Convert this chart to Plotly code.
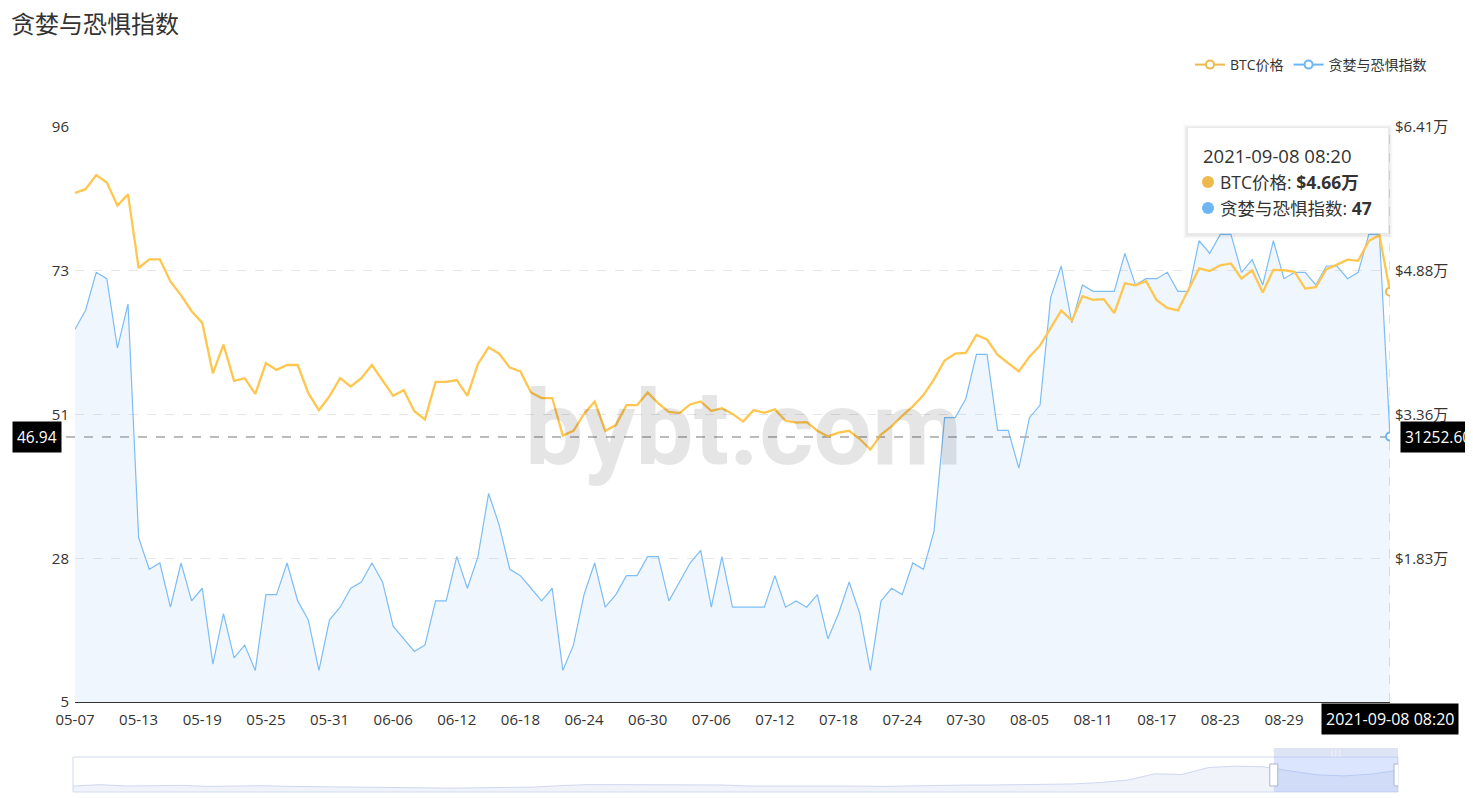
import pandas as pd
import plotly.graph_objects as go

# ---------------- data ----------------
dates = pd.date_range("2021-05-07", periods=125, freq="D")

fear_greed = [
    64, 67, 73, 72, 61, 68, 31, 26, 27, 20, 27, 21, 23, 11, 19, 12, 14, 10, 22, 22, 27, 21, 18, 10, 18, 20,
    23, 24, 27, 24, 17, 15, 13, 14, 21, 21, 28, 23, 28, 38, 33, 26, 25, 23, 21, 23, 10, 14, 22, 27,
    20, 22, 25, 25, 28, 28, 21, 24, 27, 29, 20, 28, 20, 20, 20, 20, 25, 20, 21, 20, 22, 15, 19, 24, 19,
    10, 21, 23, 22, 27, 26, 32, 50, 50, 53, 60, 60, 48, 48, 42, 50, 52, 69, 74, 65, 71, 70, 70, 70,
    76, 71, 72, 72, 73, 70, 70, 78, 76, 79, 79, 73, 75, 71, 78, 72, 73, 73, 71, 74, 74, 72, 73, 79, 79, 47,
]

btc_price = [
    57100, 57500, 59000, 58200, 55760, 56950, 49130, 50050, 50050, 47700, 46220, 44540, 43300, 37950,
    40990, 37150, 37430, 35760, 39030, 38310, 38830, 38830, 35840, 34040, 35520, 37430,
    36550, 37430, 38830, 37230, 35560, 36160, 33920, 33040, 37030, 37030, 37230, 35560, 38950, 40710,
    40030, 38550, 38150, 35920, 35320, 35320, 31330, 31850, 33640, 34960,
    31850, 32450, 34560, 34560, 35920, 34760, 33840, 33720, 34640, 34960, 33960, 34240, 33640, 32840,
    34040, 33760, 34120, 32920, 32720, 32760, 31850, 31250, 31650, 31850, 30970,
    29850, 31450, 32320, 33440, 34440, 35640, 37310, 39310, 40030, 40110, 42020, 41540, 39910, 39030,
    38150, 39710, 40910, 42740, 44620, 43540, 46140, 45740, 45820, 44340,
    47500, 47290, 47730, 45700, 44900, 44620, 46820, 49090, 48810, 49410, 49610, 48010, 48890, 46540,
    48930, 48890, 48730, 46940, 47090, 49010, 49490, 50010, 49890, 52010, 52600, 46620,
]

# long-range overview shown in the zoom slider (rough reading)
overview_dates = pd.date_range(end="2021-09-08", periods=50, freq="27D")
overview_price = [
    13600, 16800, 13600, 15200, 15200, 12800, 13600, 14400, 12800, 12000, 12000, 11200, 9600, 8800,
    8800, 9600, 9600, 11200, 14400, 16800, 16800, 16800, 15200, 15200, 16000, 13600, 13600, 14400,
    15200, 13600, 12800, 14400, 15200, 16000, 16000, 16800, 17600, 18400, 21600, 27200, 41600, 40000,
    56000, 59200, 57600, 48000, 39200, 36800, 40800, 49600,
]

left_tickvals = [5, 27.75, 50.5, 73.25, 96]
left_ticktext = ["5", "28", "51", "73", "96"]
right_range = [3050, 64100]
right_tickvals = [18312.5, 33575, 48837.5, 64100]
right_ticktext = ["$1.83万", "$3.36万", "$4.88万", "$6.41万"]

pointer_left = 46.94
pointer_right = "31252.60"
pointer_time = "2021-09-08 08:20"

# ---------------- styles ----------------
FONT = "Open Sans, Noto Sans CJK SC, sans-serif"
ORANGE = "#ffc64f"
ORANGE_DOT = "#edb94a"
BLUE = "#7dbdf5"
BLUE_DOT = "#6cb6f4"
TXT = "#333333"

# page has an 8px body margin; figure is placed at (8, 8)
OFF = 8
W, H = 1473 - OFF, 798 - OFF
L, R, T, B = 65, 75, 119, 5
PW, PH = W - L - R, H - T - B


def px(x):  # page x -> paper
    return (x - OFF - L) / PW


def py(y):  # page y -> paper
    return (H - B - (y - OFF)) / PH


fig = go.Figure()

fig.add_trace(go.Scatter(
    x=dates, y=fear_greed, mode="lines", yaxis="y",
    line=dict(color=BLUE, width=1.2), fill="tozeroy",
    fillcolor="rgba(120,180,240,0.12)", showlegend=False, hoverinfo="skip"))
fig.add_trace(go.Scatter(
    x=dates, y=btc_price, mode="lines", yaxis="y2",
    line=dict(color=ORANGE, width=2.3), showlegend=False, hoverinfo="skip"))
fig.add_trace(go.Scatter(
    x=[dates[-1]], y=[btc_price[-1]], mode="lines+markers", yaxis="y2", name="BTC价格",
    line=dict(color=ORANGE_DOT, width=2),
    marker=dict(symbol="circle", size=8, color="white", line=dict(color=ORANGE_DOT, width=2))))
fig.add_trace(go.Scatter(
    x=[dates[-1]], y=[fear_greed[-1]], mode="lines+markers", yaxis="y", name="贪婪与恐惧指数",
    line=dict(color=BLUE_DOT, width=2),
    marker=dict(symbol="circle", size=8, color="white", line=dict(color=BLUE_DOT, width=2))))

fig.add_trace(go.Scatter(
    x=overview_dates, y=overview_price, mode="lines", xaxis="x3", yaxis="y3",
    line=dict(color="#c9d4ee", width=0.9), fill="tozeroy", fillcolor="rgba(215,222,242,0.35)",
    showlegend=False, hoverinfo="skip"))

# every 6th day; the 09-04 label sits under the pointer label in the reference
tick_dates = list(dates[0:120:6])
fig.update_layout(
    width=W, height=H, autosize=False,
    margin=dict(l=L, r=R, t=T, b=B, autoexpand=False),
    paper_bgcolor="white", plot_bgcolor="white",
    font=dict(family=FONT, color=TXT, size=13),
    title=dict(text="贪婪与恐惧指数", x=(11 - OFF) / W, xref="container", xanchor="left",
               y=1 - (25 - OFF) / H, yref="container", yanchor="middle",
               font=dict(size=24, color=TXT, family="Noto Sans CJK SC, sans-serif")),
    legend=dict(orientation="h", x=px(1432), xanchor="right", y=py(65), yanchor="middle",
                font=dict(size=14, color=TXT), itemwidth=30, bgcolor="rgba(0,0,0,0)",
                traceorder="normal"),
    xaxis=dict(domain=[px(75), px(1390)], type="date", automargin=False,
               range=[dates[0], dates[-1]], tickvals=tick_dates,
               ticktext=[d.strftime("%m-%d") for d in tick_dates],
               showgrid=False, showline=True, linecolor="#333", linewidth=1,
               ticks="", ticklabelstandoff=4,
               tickfont=dict(size=15, color=TXT), zeroline=False, anchor="y"),
    yaxis=dict(domain=[py(702), 1], range=[5, 96], tickvals=left_tickvals, ticktext=left_ticktext,
               showgrid=True, gridcolor="#e6e6e6", griddash="dash", gridwidth=1, automargin=False,
               zeroline=False, showline=False, ticks="", ticklabelstandoff=5,
               tickfont=dict(size=15, color=TXT), anchor="x"),
    yaxis2=dict(overlaying="y", side="right", anchor="x", range=right_range, automargin=False,
                tickvals=right_tickvals, ticktext=right_ticktext, showgrid=False,
                zeroline=False, showline=False, ticks="", ticklabelstandoff=4,
                tickfont=dict(size=15, color=TXT)),
    xaxis3=dict(domain=[0, 1], anchor="y3", range=[overview_dates[0], overview_dates[-1]],
                automargin=False, showgrid=False, showticklabels=False, zeroline=False,
                showline=False, ticks=""),
    yaxis3=dict(domain=[py(792), py(757)], anchor="x3", range=[0, 80000], automargin=False,
                showgrid=False, showticklabels=False, zeroline=False, showline=False, ticks=""),
)

shapes = []
# axis pointer lines
shapes.append(dict(type="line", xref="paper", x0=px(66), x1=px(1390), yref="y",
                   y0=pointer_left, y1=pointer_left, layer="below",
                   line=dict(color="#777", width=1, dash="dash")))
shapes.append(dict(type="line", xref="x", x0=dates[-1], x1=dates[-1], yref="y domain",
                   y0=0, y1=1, layer="below", line=dict(color="#b8c4d8", width=1, dash="dash")))

# tooltip box with soft shadow
for i, a in enumerate([0.012, 0.018, 0.025, 0.03]):
    g = 5 - i
    shapes.append(dict(type="rect", xref="paper", yref="paper",
                       x0=px(1188 - g), x1=px(1388 + g), y0=py(233 + g + 1), y1=py(128 - g + 1),
                       fillcolor=f"rgba(0,0,0,{a})", line=dict(width=0), layer="above"))
shapes.append(dict(type="rect", xref="paper", yref="paper",
                   x0=px(1188), x1=px(1388), y0=py(233), y1=py(128),
                   fillcolor="white", line=dict(width=0), layer="above"))
for yy, col in [(182, ORANGE_DOT), (208, BLUE_DOT)]:
    shapes.append(dict(type="circle", xref="paper", yref="paper",
                       xsizemode="pixel", ysizemode="pixel",
                       xanchor=px(1208), yanchor=py(yy), x0=-6, x1=6, y0=-6, y1=6,
                       fillcolor=col, line=dict(width=0), layer="above"))

# zoom slider decorations
shapes.append(dict(type="rect", xref="paper", yref="paper", x0=px(73), x1=px(1398),
                   y0=py(792), y1=py(757),
                   line=dict(color="#d2dbee", width=1), fillcolor="rgba(0,0,0,0)", layer="above"))
shapes.append(dict(type="rect", xref="x3", yref="paper", x0=dates[0], x1=dates[-1],
                   y0=py(792), y1=py(757),
                   line=dict(width=0), fillcolor="rgba(135,170,250,0.30)", layer="above"))
shapes.append(dict(type="rect", xref="x3", yref="paper", x0=dates[0], x1=dates[-1],
                   y0=py(757), y1=py(748), line=dict(width=0),
                   fillcolor="rgba(170,190,230,0.40)", layer="above"))
for d in [dates[0], dates[-1]]:
    shapes.append(dict(type="rect", xref="x3", yref="paper", xsizemode="pixel", ysizemode="pixel",
                       xanchor=d, yanchor=py(775), x0=-4, x1=4, y0=-11, y1=11,
                       fillcolor="white", line=dict(color="#aab6cc", width=1), layer="above"))

annotations = []
# watermark
annotations.append(dict(text="<b>bybt.com</b>", xref="paper", yref="paper", x=px(743), y=py(428),
                        xanchor="center", yanchor="middle", showarrow=False,
                        font=dict(family="Roboto, Arial, sans-serif", size=104,
                                  color="rgba(0,0,0,0.10)")))
# tooltip text
annotations.append(dict(text=pointer_time, xref="paper", yref="paper", x=px(1201), y=py(156),
                        xanchor="left", yanchor="middle", showarrow=False,
                        font=dict(size=18.5, color=TXT)))
annotations.append(dict(text=f"BTC价格: <b>${btc_price[-1] / 10000:.2f}万</b>", xref="paper",
                        yref="paper", x=px(1218), y=py(182), xanchor="left", yanchor="middle",
                        showarrow=False, font=dict(size=17.5, color=TXT)))
annotations.append(dict(text=f"贪婪与恐惧指数: <b>{fear_greed[-1]}</b>", xref="paper",
                        yref="paper", x=px(1218), y=py(208), xanchor="left", yanchor="middle",
                        showarrow=False, font=dict(size=17.5, color=TXT)))
# axis pointer labels
annotations.append(dict(text=f"{pointer_left:.2f}", xref="paper", yref="y", x=px(37), y=pointer_left,
                        xanchor="center", yanchor="middle", showarrow=False, bgcolor="#000",
                        borderpad=4, font=dict(size=15.5, color="white")))
annotations.append(dict(text=pointer_right, xref="paper", yref="y", x=px(1400), y=pointer_left,
                        xanchor="left", yanchor="middle", showarrow=False, bgcolor="#000",
                        borderpad=4, font=dict(size=15.5, color="white")))
annotations.append(dict(text=pointer_time, xref="x", yref="paper", x=dates[-1], y=py(719),
                        xanchor="center", yanchor="middle", showarrow=False, bgcolor="#000",
                        borderpad=4, font=dict(size=16, color="white")))
# slider grip
annotations.append(dict(text="|||", xref="x3", yref="paper",
                        x=dates[62], y=py(752.5), xanchor="center", yanchor="middle",
                        showarrow=False, font=dict(size=7, color="white")))

fig.update_layout(shapes=shapes, annotations=annotations)

fig.write_html("out.html")
